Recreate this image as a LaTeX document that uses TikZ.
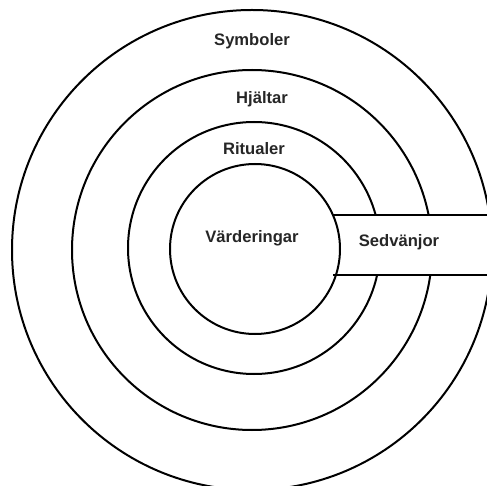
\documentclass[tikz,border=0pt]{standalone}
\usepackage{fontspec}
\setmainfont{Liberation Sans}
\begin{document}
\begin{tikzpicture}[x=1pt,y=-1pt,
  ring/.style={draw=black, line width=2pt, circle, inner sep=0pt},
  edge/.style={draw=black, line width=2pt},
  lbl/.style={font=\bfseries\fontsize{16.6}{19}\selectfont, inner sep=0pt, text=black!85}]
\useasboundingbox (0,0) rectangle (487,486);
\begin{scope}
\clip (0,0) rectangle (487,486);
\node[ring, minimum size=480pt] (sym) at (252,250) {};
\node[ring, minimum size=360pt] (hje) at (252,250) {};
\node[ring, minimum size=252pt] (rit) at (254,248) {};
\fill[white] (320,215) rectangle (495,275);
\node[ring, minimum size=170pt] (val) at (255,249) {};
\coordinate (t1) at (333,215);
\coordinate (t2) at (490,215);
\coordinate (b1) at (333,275);
\coordinate (b2) at (490,275);
\draw[edge] (t1) -- (t2);
\draw[edge] (b1) -- (b2);
\end{scope}
\node[lbl] (lsym) at (252,41) {Symboler};
\node[lbl] (lhje) at (262,99) {Hjältar};
\node[lbl] (lrit) at (254,149) {Ritualer};
\node[lbl] (lval) at (252,238) {Värderingar};
\node[lbl] (lsed) at (399,242) {Sedvänjor};
\end{tikzpicture}
\end{document}
